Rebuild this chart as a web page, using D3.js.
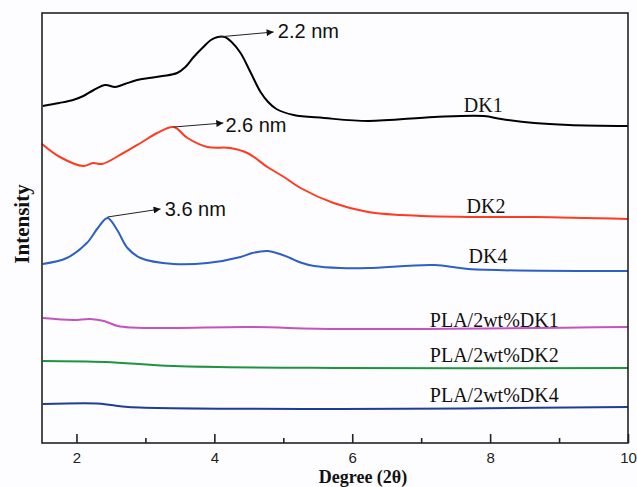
<!DOCTYPE html>
<html><head><meta charset="utf-8">
<script src="https://cdn.jsdelivr.net/npm/d3@7"></script>
<style>body{margin:0;background:#fdfdff;} svg{display:block;}</style>
</head><body>
<script>
// x = Degree (2θ), y = Intensity (a.u., curves stacked with offsets)
const dk1 = [[1.51,337],[1.75,340],[1.95,343],[2.10,347],[2.25,353],[2.42,358],[2.56,356],[2.70,359],[2.88,363],[3.05,365],[3.25,367],[3.46,370],[3.58,376],[3.70,386],[3.84,396],[3.95,403],[4.05,406],[4.15,406],[4.25,401],[4.38,390],[4.53,370],[4.67,351],[4.78,341],[4.90,334],[5.15,328],[5.59,325],[6.23,322],[7.19,326],[7.91,327],[8.16,324],[8.64,320],[9.14,318],[10.0,317]];
const dk2 = [[1.50,299],[1.76,286],[2.10,277],[2.24,280],[2.37,279],[2.68,290],[2.93,300],[3.17,310],[3.41,316],[3.61,305],[3.90,296],[4.23,295],[4.48,290],[4.77,276],[5.01,266],[5.25,255],[5.73,240],[6.23,231],[6.71,228],[7.68,226],[8.64,226],[10.0,224]];
const dk4 = [[1.51,179],[1.86,185],[2.15,200],[2.31,215],[2.45,225],[2.59,213],[2.74,195],[2.93,185],[3.41,179],[3.90,180],[4.38,186],[4.55,190],[4.77,192],[4.95,189],[5.10,185],[5.25,180.5],[5.45,177],[5.83,175],[6.23,175],[7.19,178],[7.68,174],[10.0,172]];
const pla1 = [[1.51,125],[1.95,123],[2.20,124],[2.40,122],[2.60,117],[2.80,115.5],[3.41,115],[4.48,116],[5.83,114],[10.0,116]];
const pla2 = [[1.51,82],[2.42,81],[3.41,77],[5.83,75],[10.0,75]];
const pla4 = [[1.51,39],[2.29,39.5],[2.50,38],[2.75,36],[5.83,34],[10.0,36]];
const seriesNames = ["DK1","DK2","DK4","PLA/2wt%DK1","PLA/2wt%DK2","PLA/2wt%DK4"];
const seriesData = [dk1,dk2,dk4,pla1,pla2,pla4];
const seriesColors = ["#000000","#ff3b1f","#2d5fc4","#c055c0","#1e9440","#1f3c98"];
const labelPos = [[7.9,331],[7.94,230],[7.97,180],[8.06,116],[8.06,81],[8.06,41]]; // [degree, intensity] label baseline
const peakNotes = [
  {text:"2.2 nm",peak:[4.05,406],to:[4.86,411],at:[4.92,405]},
  {text:"2.6 nm",peak:[3.41,316],to:[4.13,320],at:[4.16,311]},
  {text:"3.6 nm",peak:[2.45,226],to:[3.22,234],at:[3.28,227]}];
const xTicks = [2,3,4,5,6,7,8,9,10];

const W=637,H=487;
const m={left:42,top:13,right:9,bottom:44};
const svg=d3.select("body").append("svg").attr("width",W).attr("height",H);
svg.append("rect").attr("width",W).attr("height",H).attr("fill","#fdfdff");
const x=d3.scaleLinear().domain([1.5,10]).range([m.left,W-m.right]);
const y=d3.scaleLinear().domain([0,430]).range([H-m.bottom,m.top]);

const line=d3.line().x(d=>x(d[0])).y(d=>y(d[1])).curve(d3.curveCatmullRom.alpha(0.5));
seriesData.forEach((s,i)=>{
  svg.append("path").datum(s).attr("d",line).attr("fill","none")
    .attr("stroke",seriesColors[i]).attr("stroke-width",2).attr("stroke-linejoin","round");
});

// labels
seriesNames.forEach((n,i)=>{
  svg.append("text").attr("x",x(labelPos[i][0])).attr("y",y(labelPos[i][1]))
    .attr("text-anchor","middle").attr("font-family","'Liberation Serif','Times New Roman',serif")
    .attr("font-size",20).attr("fill","#111").text(n);
});

// arrows
svg.append("defs").append("marker").attr("id","ah").attr("viewBox","0 0 10 10")
  .attr("refX",10).attr("refY",5).attr("markerWidth",10).attr("markerHeight",7)
  .attr("markerUnits","userSpaceOnUse").attr("orient","auto")
  .append("path").attr("d","M0,0L10,5L0,10z").attr("fill","#111");
peakNotes.forEach(p=>{
  svg.append("line").attr("x1",x(p.peak[0])).attr("y1",y(p.peak[1]))
    .attr("x2",x(p.to[0])).attr("y2",y(p.to[1])).attr("stroke","#222").attr("stroke-width",1)
    .attr("marker-end","url(#ah)");
  svg.append("text").attr("x",x(p.at[0])).attr("y",y(p.at[1]))
    .attr("font-family","'Liberation Sans',Arial,sans-serif").attr("font-size",20).attr("fill","#111").text(p.text);
});

// frame
svg.append("rect").attr("x",m.left).attr("y",m.top).attr("width",W-m.left-m.right).attr("height",H-m.top-m.bottom)
  .attr("fill","none").attr("stroke","#222").attr("stroke-width",1.6);

// x axis
const ax=svg.append("g").attr("transform",`translate(0,${H-m.bottom})`)
  .call(d3.axisBottom(x).tickValues(xTicks).tickSizeInner(-9).tickSizeOuter(0).tickPadding(9)
    .tickFormat(d=>d%2===0?d:""));
ax.select(".domain").remove();
ax.selectAll(".tick line").attr("stroke","#222").attr("stroke-width",1.6)
  .attr("y2",d=>d%2===0?-9:-5);
ax.selectAll(".tick text").attr("font-family","'Liberation Sans',Arial,sans-serif").attr("font-size",15).attr("fill","#222");

svg.append("text").attr("x",363).attr("y",483).attr("text-anchor","middle")
  .attr("font-family","'Liberation Serif','Times New Roman',serif").attr("font-weight","bold").attr("font-size",18)
  .attr("fill","#111").text("Degree (2θ)");
svg.append("text").attr("transform","translate(29,224) rotate(-90)").attr("text-anchor","middle")
  .attr("font-family","'Liberation Serif','Times New Roman',serif").attr("font-weight","bold").attr("font-size",21)
  .attr("fill","#111").text("Intensity");
</script>
</body></html>
